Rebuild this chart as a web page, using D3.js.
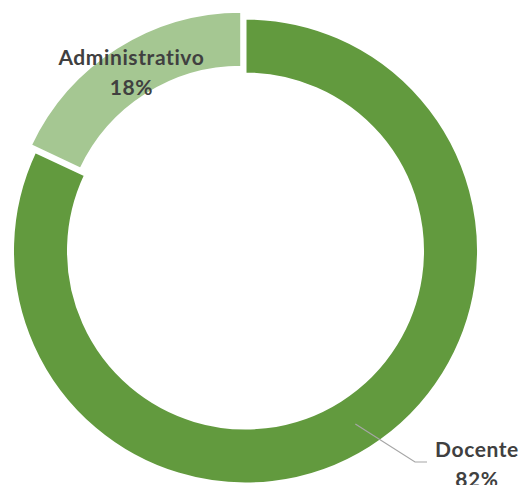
<!DOCTYPE html>
<html>
<head>
<meta charset="utf-8">
<script src="https://cdn.jsdelivr.net/npm/d3@7"></script>
<style>
  html, body { margin: 0; padding: 0; background: #ffffff; }
  svg { display: block; }
</style>
</head>
<body>
<svg id="chart" width="521" height="485"></svg>
<script>
const categories = ["Docente", "Administrativo"];
const values = [82, 18];
const percentLabels = ["82%", "18%"];
const colors = ["#629A3E", "#A5C792"];

const width = 521, height = 485;
const cx = 245.5, cy = 251;
const outerR = 232.5, innerR = 177.5;
const explode = [0, 8];

const svg = d3.select("#chart");
const g = svg.append("g").attr("transform", `translate(${cx},${cy})`);

const data = categories.map((c, i) => ({ name: c, value: values[i], pct: percentLabels[i], color: colors[i], explode: explode[i] }));

const pie = d3.pie().value(d => d.value).sort(null).startAngle(0).endAngle(2 * Math.PI);
const arcs = pie(data);
const arc = d3.arc().innerRadius(innerR).outerRadius(outerR);
const midArc = d3.arc().innerRadius((innerR + outerR) / 2).outerRadius((innerR + outerR) / 2);

function offset(d) {
  const a = (d.startAngle + d.endAngle) / 2;
  return [Math.sin(a) * d.data.explode, -Math.cos(a) * d.data.explode];
}

g.selectAll("path.slice")
  .data(arcs)
  .join("path")
  .attr("class", "slice")
  .attr("d", arc)
  .attr("transform", d => { const o = offset(d); return `translate(${o[0]},${o[1]})`; })
  .attr("fill", d => d.data.color)
  .attr("stroke", "#ffffff")
  .attr("stroke-width", 2);

const font = "Lato, 'Open Sans', sans-serif";
const fs = 21;
const ls = 0.6;
const textColor = "#404040";

function twoLine(x, y1, name, pct) {
  const t = g.append("text")
    .attr("text-anchor", "middle")
    .attr("font-family", font).attr("font-weight", "bold")
    .attr("font-size", fs).attr("letter-spacing", ls).attr("fill", textColor);
  t.append("tspan").attr("x", x).attr("y", y1).text(name);
  t.append("tspan").attr("x", x).attr("y", y1 + 30).text(pct);
}

// Administrativo label at slice mid-angle
const admin = arcs[1];
{
  const a = (admin.startAngle + admin.endAngle) / 2;
  const rr = 213;
  const x = Math.sin(a) * rr, y = -Math.cos(a) * rr;
  twoLine(x, y - 6, admin.data.name, admin.data.pct);
}

// Docente label with leader line
const doc = arcs[0];
{
  const c = midArc.centroid(doc);
  const elbow = [415 - cx, 462 - cy];
  const end = [427 - cx, 462 - cy];
  g.append("polyline")
    .attr("points", [c, elbow, end].map(p => p.join(",")).join(" "))
    .attr("fill", "none")
    .attr("stroke", "#A6A6A6")
    .attr("stroke-width", 1.2);
  twoLine(477 - cx, 456.5 - cy, doc.data.name, doc.data.pct);
}
</script>
</body>
</html>
